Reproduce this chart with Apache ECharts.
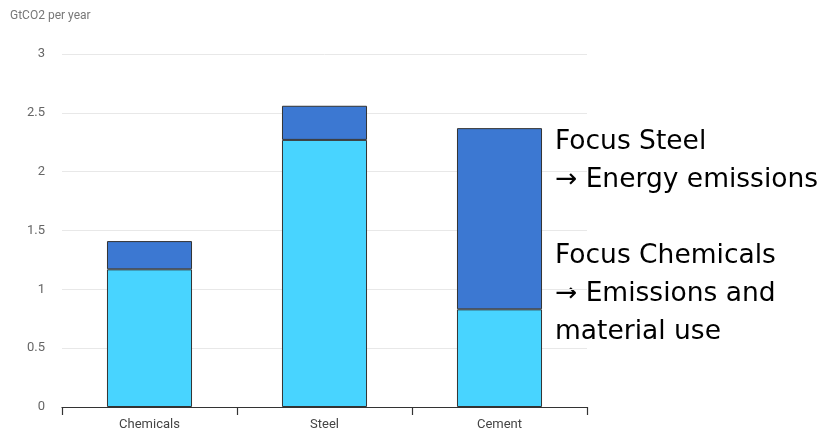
<!DOCTYPE html>
<html>
<head>
<meta charset="utf-8">
<script src="https://cdn.jsdelivr.net/npm/echarts@6/dist/echarts.min.js"></script>
<style>
  html, body { margin: 0; padding: 0; background: #fff; }
  #chart { width: 830px; height: 432px; }
</style>
</head>
<body>
<div id="chart"></div>
<script>
// Industrial CO2 emissions by sector, split into two stacked parts
const categories = ['Chemicals', 'Steel', 'Cement'];
const lowerPart = [1.17, 2.27, 0.83];
const upperPart = [0.24, 0.29, 1.54];
const yTicks = [0, 0.5, 1, 1.5, 2, 2.5, 3];
const notes = [
  'Focus Steel',
  '\u2192 Energy emissions',
  '',
  'Focus Chemicals',
  '\u2192 Emissions and',
  'material use'
];

const chart = echarts.init(document.getElementById('chart'), null, { renderer: 'canvas' });

const barStyle = (color) => ({ color: color, borderColor: '#333', borderWidth: 1 });

chart.setOption({
  animation: false,
  grid: { left: 62, right: 243, top: 54, bottom: 25 },
  xAxis: {
    type: 'category',
    data: categories,
    axisLine: { show: true, lineStyle: { color: '#333', width: 1.2 } },
    axisTick: { show: true, length: 8, lineStyle: { color: '#333', width: 1.2 } },
    axisLabel: { color: '#444', fontSize: 13, fontFamily: 'Roboto', margin: 11 }
  },
  yAxis: {
    type: 'value',
    min: yTicks[0],
    max: yTicks[yTicks.length - 1],
    interval: 0.5,
    name: 'GtCO2 per year',
    nameLocation: 'end',
    nameGap: 0,
    nameTextStyle: { color: '#777', fontSize: 12, fontFamily: 'Roboto', align: 'left', padding: [0, 0, 32, -52] },
    axisLine: { show: false },
    axisTick: { show: false },
    axisLabel: { color: '#666', fontSize: 13, fontFamily: 'Roboto', margin: 17 },
    splitLine: { lineStyle: { color: '#e8e8e8', width: 1 } }
  },
  series: [
    {
      type: 'bar', stack: 'total', data: lowerPart, barWidth: '48.6%',
      itemStyle: barStyle('#48D4FF')
    },
    {
      type: 'bar', stack: 'total', data: upperPart, barWidth: '48.6%',
      itemStyle: barStyle('#3C78D2')
    }
  ],
  graphic: [
    {
      type: 'text', left: 555, top: 123,
      style: {
        text: notes.join('\n'),
        font: '26.5px "DejaVu Sans"',
        fill: '#000',
        lineHeight: 38
      }
    }
  ]
});
</script>
</body>
</html>
